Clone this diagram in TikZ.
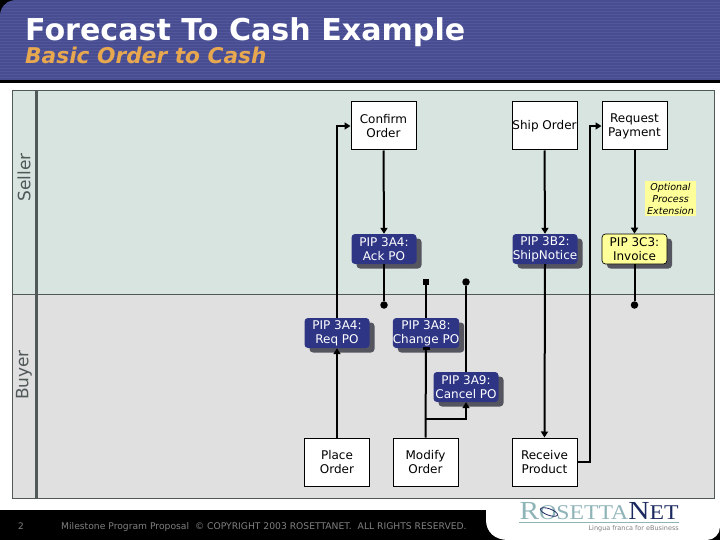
\documentclass[tikz,border=0pt]{standalone}
\usepackage{fontspec}
\setmainfont{DejaVu Sans}
\newfontfamily\logofont{Liberation Serif}
\usetikzlibrary{arrows.meta,shadows}
\definecolor{hdrblue}{HTML}{484D92}
\definecolor{hdrstripe}{HTML}{52579C}
\definecolor{subor}{HTML}{E8A850}
\definecolor{sellerbg}{HTML}{D8E4E0}
\definecolor{buyerbg}{HTML}{E0E0E0}
\definecolor{edgegray}{HTML}{505858}
\definecolor{pipblue}{HTML}{2E3585}
\definecolor{pipshadow}{HTML}{55555F}
\definecolor{pipyellow}{HTML}{FFFF99}
\definecolor{notey}{HTML}{FFFF99}
\definecolor{logoteal}{HTML}{8FB4B8}
\definecolor{logonavy}{HTML}{1C2A60}
\tikzset{
 x=1pt,y=-1pt,
 taskbox/.style={draw=black,line width=1pt,fill=white,minimum width=65pt,minimum height=48pt,inner sep=0pt,align=center,font=\fontsize{12}{14}\selectfont,text=black},
 pipnode/.style={fill=pipblue,rounded corners=3.5pt,minimum width=65pt,minimum height=30pt,inner sep=0pt,align=center,font=\fontsize{12}{14}\selectfont,text=white,
   drop shadow={shadow xshift=5pt,shadow yshift=-4.5pt,fill=pipshadow,opacity=1}},
 pipyel/.style={pipnode,fill=pipyellow,draw=black,line width=.7pt,text=black},
 flow/.style={line width=2pt,draw=black},
 arr/.style={flow,-{Triangle[length=6pt,width=7pt]}},
 dot/.style={circle,fill=black,inner sep=0pt,minimum size=7.5pt},
 sq/.style={rectangle,fill=black,inner sep=0pt,minimum size=6pt},
 tee/.style={rectangle,fill=black,inner sep=0pt,minimum width=7pt,minimum height=3pt},
 lane/.style={font=\fontsize{17}{20}\selectfont,text=edgegray,rotate=90},
}
\begin{document}
\begin{tikzpicture}
\useasboundingbox (0,0) rectangle (720,540);
\fill[white] (0,0) rectangle (720,540);
% header
\fill[black] (0,0) rectangle (20,20);
\fill[hdrblue] (0,80) -- (0,16) .. controls (0,7) and (7,0) .. (16,0) -- (720,0) -- (720,80) -- cycle;
\begin{scope}
\clip (0,80) -- (0,16) .. controls (0,7) and (7,0) .. (16,0) -- (720,0) -- (720,80) -- cycle;
\foreach \yy in {2,5,...,80}{\draw[hdrstripe,line width=.8pt] (0,\yy) -- (720,\yy);}
\end{scope}
\fill[black] (0,80) rectangle (720,83);
\node[anchor=base west,inner sep=0pt,font=\bfseries\fontsize{30.1}{32}\selectfont,text=white] (title) at (25,41) {Forecast To Cash Example};
\node[anchor=base west,inner sep=0pt,font=\bfseries\itshape\fontsize{21.7}{24}\selectfont,text=subor] (subtitle) at (25,64) {Basic Order to Cash};
% panel
\fill[sellerbg] (12.5,90.5) rectangle (714,294);
\fill[buyerbg] (12.5,294) rectangle (714,498);
\draw[edgegray,line width=1pt] (12.5,90.5) rectangle (714,498);
\draw[edgegray,line width=1pt] (12.5,294) -- (714,294);
\draw[edgegray,line width=3pt] (36.5,90.5) -- (36.5,498);
\node[lane] (seller) at (24,177.5) {Seller};
\node[lane] (buyer) at (24,375) {Buyer};
% footer
\fill[black] (0,510) rectangle (720,540);
\fill[white] (486,510) -- (720,510) -- (720,527) .. controls (720,534) and (714,540) .. (707,540) -- (508,540) .. controls (495,540) and (486,532) .. (486,520) -- cycle;
\node[anchor=base,inner sep=0pt,font=\fontsize{9}{11}\selectfont,text=gray] (pageno) at (21,529) {2};
\node[anchor=base west,inner sep=0pt,font=\fontsize{9.2}{11}\selectfont,text=gray] (foot) at (61,529) {Milestone Program Proposal\ \ © COPYRIGHT 2003 ROSETTANET.\ \ ALL RIGHTS RESERVED.};
% logo
\node[anchor=base west,inner sep=0pt,font=\logofont] (logo) at (519.5,519.5) {\scalebox{1.13}[1]{\fontsize{26}{28}\selectfont\textcolor{logoteal}{R\fontsize{21}{28}\selectfont OSETTA}\textcolor{logonavy}{\fontsize{26}{28}\selectfont N\fontsize{21}{28}\selectfont ET}}};
\draw[logonavy,line width=.8pt,rotate around={-20:(549,512)}] (549,512) ellipse[x radius=9,y radius=3.2];
\draw[logoteal,line width=.8pt] (519,522.5) -- (679,522.5);
\node[anchor=base east,inner sep=0pt,font=\fontsize{6.5}{7}\selectfont,text=gray] (tag) at (679,530) {Lingua franca for eBusiness};
% nodes
\node[taskbox] (confirm) at (383.5,126) {Confirm\\Order};
\node[taskbox] (ship) at (544.5,126) {\raisebox{-1pt}{Ship Order}};
\node[taskbox] (request) at (634.5,126) {Request\\Payment};
\node[taskbox] (place) at (337,462) {Place\\Order};
\node[taskbox] (modify) at (425.5,462) {Modify\\Order};
\node[taskbox] (receive) at (544.5,462) {Receive\\Product};
\node[pipnode] (ack) at (384,249) {PIP 3A4:\\Ack PO};
\node[pipnode] (shipn) at (545,249) {PIP 3B2:\\ShipNotice};
\node[pipyel] (inv) at (634.5,249) {PIP 3C3:\\Invoice};
\node[pipnode] (req) at (337,333) {PIP 3A4:\\Req PO};
\node[pipnode] (chg) at (426,333) {PIP 3A8:\\Change PO};
\node[pipnode] (cancel) at (466,387) {PIP 3A9:\\Cancel PO};
\node[fill=notey,inner sep=2pt,align=center,font=\itshape\fontsize{9.5}{12}\selectfont,text=black] (note) at (670.5,198.5) {Optional\\Process\\Extension};
\node[dot] (ackend) at (384,305) {};
\node[sq] (chgend) at (426,282) {};
\node[dot] (cancelend) at (466,282) {};
\node[dot] (invend) at (634.5,305) {};
\node[tee] (chgtee) at (426,348.5) {};
\coordinate (bend1) at (337,126);
\coordinate (bend2a) at (590,462);
\coordinate (bend2b) at (590,126);
\coordinate (mj) at (426,419);
\coordinate (mk) at (466,419);
% connectors
\draw[arr] (place.north) -- (req.south);
\draw[arr] (req.north) -- (bend1) -- (confirm.west);
\draw[arr] (confirm.south) -- (ack.north);
\draw[flow] (ack.south) -- (ackend);
\draw[flow] (modify.north) -- (chgtee);
\draw[flow] (chg.north) -- (chgend);
\draw[arr] (mj) -- (mk) -- (cancel.south);
\draw[flow] (cancel.north) -- (cancelend);
\draw[arr] (ship.south) -- (shipn.north);
\draw[arr] (shipn.south) -- (receive.north);
\draw[arr] (receive.east) -- (bend2a) -- (bend2b) -- (request.west);
\draw[arr] (request.south) -- (inv.north);
\draw[flow] (inv.south) -- (invend);
\end{tikzpicture}
\end{document}
